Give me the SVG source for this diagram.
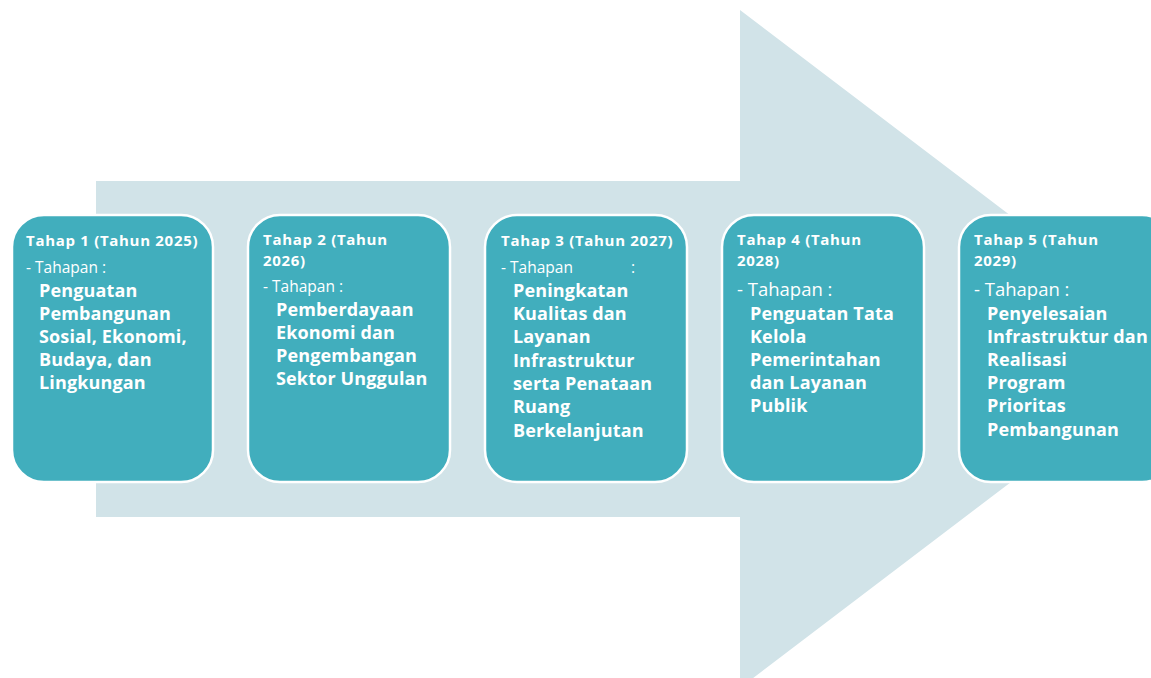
<svg xmlns="http://www.w3.org/2000/svg" width="1151" height="678" viewBox="0 0 1151 678">
<style>
.box{fill:#41AEBD;stroke:#FFFFFF;stroke-width:2.5}
.t{font-family:"Open Sans",Lato,sans-serif;fill:#FFFFFF}
.h{font-size:15px;font-weight:bold;letter-spacing:0.7px}
.s{font-size:15.5px}
.s2{font-size:18.5px}
.m{font-size:18px;font-weight:bold;letter-spacing:0.15px}
</style>
<rect width="1151" height="678" fill="#FFFFFF"/>
<g id="arrow">
<path d="M96,181 L740,181 L740,10 L1186,349 L740,688 L740,517 L96,517 Z" fill="#D1E3E8"/>
</g>
<g id="connectors"></g>
<g id="tahap1">
<rect class="box" x="12" y="215" width="201" height="267" rx="32"/>
<text class="t h" x="26" y="246">Tahap 1 (Tahun 2025)</text>
<text class="t s" x="26" y="273">- Tahapan :</text>
<text class="t m" x="39" y="297">Penguatan</text>
<text class="t m" x="39" y="320">Pembangunan</text>
<text class="t m" x="39" y="343">Sosial, Ekonomi,</text>
<text class="t m" x="39" y="366">Budaya, dan</text>
<text class="t m" x="39" y="389">Lingkungan</text>
</g>
<g id="tahap2">
<rect class="box" x="248" y="215" width="202" height="267" rx="32"/>
<text class="t h" x="263" y="245">Tahap 2 (Tahun</text>
<text class="t h" x="263" y="266">2026)</text>
<text class="t s" x="263" y="292">- Tahapan :</text>
<text class="t m" x="276" y="316">Pemberdayaan</text>
<text class="t m" x="276" y="339">Ekonomi dan</text>
<text class="t m" x="276" y="362">Pengembangan</text>
<text class="t m" x="276" y="385">Sektor Unggulan</text>
</g>
<g id="tahap3">
<rect class="box" x="485" y="215" width="202" height="267" rx="32"/>
<text class="t h" x="501" y="246">Tahap 3 (Tahun 2027)</text>
<text class="t s" x="501" y="273">- Tahapan</text>
<text class="t s" x="631" y="273">:</text>
<text class="t m" x="513" y="297">Peningkatan</text>
<text class="t m" x="513" y="320">Kualitas dan</text>
<text class="t m" x="513" y="343">Layanan</text>
<text class="t m" x="513" y="367">Infrastruktur</text>
<text class="t m" x="513" y="390">serta Penataan</text>
<text class="t m" x="513" y="413">Ruang</text>
<text class="t m" x="513" y="437">Berkelanjutan</text>
</g>
<g id="tahap4">
<rect class="box" x="722" y="215" width="202" height="267" rx="32"/>
<text class="t h" x="737" y="245">Tahap 4 (Tahun</text>
<text class="t h" x="737" y="266">2028)</text>
<text class="t s2" x="737" y="296">- Tahapan :</text>
<text class="t m" x="750" y="320">Penguatan Tata</text>
<text class="t m" x="750" y="343">Kelola</text>
<text class="t m" x="750" y="366">Pemerintahan</text>
<text class="t m" x="750" y="389">dan Layanan</text>
<text class="t m" x="750" y="412">Publik</text>
</g>
<g id="tahap5">
<rect class="box" x="959" y="215" width="215" height="267" rx="32"/>
<text class="t h" x="974" y="245">Tahap 5 (Tahun</text>
<text class="t h" x="974" y="266">2029)</text>
<text class="t s2" x="974" y="296">- Tahapan :</text>
<text class="t m" x="987" y="320">Penyelesaian</text>
<text class="t m" x="987" y="343">Infrastruktur dan</text>
<text class="t m" x="987" y="366">Realisasi</text>
<text class="t m" x="987" y="389">Program</text>
<text class="t m" x="987" y="412">Prioritas</text>
<text class="t m" x="987" y="436">Pembangunan</text>
</g>
</svg>
